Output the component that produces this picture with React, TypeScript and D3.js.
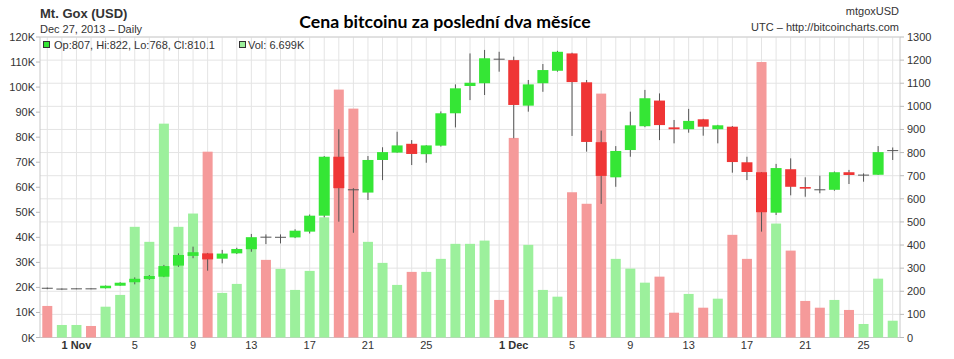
import React from "react";
import * as d3 from "d3";

const startDate = "2013-10-30";
const opens = [214,209,210,211,213,224,239,253,263,311,353,364,341,364,382,435,433,433,458,527,782,640,627,768,800,838,793,830,970,1088,1100,1205,1200,1003,1100,1154,1229,1104,845,693,811,914,1025,909,901,944,901,912,758,715,540,728,651,640,639,715,700,704,807];
const highs = [216,212,212,212,225,239,260,270,314,364,393,366,379,388,448,446,446,468,532,785,901,646,785,823,890,854,832,978,1095,1229,1244,1236,1215,1114,1183,1240,1232,1114,895,828,977,1071,1056,941,989,946,920,915,782,716,751,775,693,700,718,725,710,828,822];
const lows = [209,207,209,209,212,223,230,250,261,306,343,289,321,361,371,404,407,430,450,520,501,453,595,681,799,746,756,826,909,1027,1049,1150,862,977,1063,1150,872,804,578,652,782,910,854,840,886,873,840,713,681,458,530,615,609,624,635,664,674,703,768];
const closes = [212,210,211,210,224,237,254,266,309,357,369,338,363,383,434,433,434,462,527,782,646,638,768,802,831,794,831,970,1078,1102,1208,1203,1006,1095,1157,1236,1105,846,699,807,918,1035,919,901,937,912,918,759,716,542,733,652,644,638,715,703,705,802,810.1];
const volumesK = [12.6,5.0,5.0,4.6,12.3,17,44.2,38.2,85.4,44.2,49.5,74.2,17.8,21.4,38,31,27.4,19,26.6,48,99,91.4,38.2,29.8,21,26.2,26.2,31.4,37.4,37.4,38.7,15,79.7,37,19,16.3,58,53.4,97.4,31.4,27.5,21.9,24.3,9.9,17.4,11.9,15.5,41,31.4,110,45.5,34.7,14.6,11.9,15,11,5.4,23.5,6.699];

const volTicks = [0,10,20,30,40,50,60,70,80,90,100,110,120];
const priceTicks = [0,100,200,300,400,500,600,700,800,900,1000,1100,1200,1300];
const xTickLabels = [
  { date: "2013-11-01", label: "1 Nov", bold: true },
  { date: "2013-11-05", label: "5" },
  { date: "2013-11-09", label: "9" },
  { date: "2013-11-13", label: "13" },
  { date: "2013-11-17", label: "17" },
  { date: "2013-11-21", label: "21" },
  { date: "2013-11-25", label: "25" },
  { date: "2013-12-01", label: "1 Dec", bold: true },
  { date: "2013-12-05", label: "5" },
  { date: "2013-12-09", label: "9" },
  { date: "2013-12-13", label: "13" },
  { date: "2013-12-17", label: "17" },
  { date: "2013-12-21", label: "21" },
  { date: "2013-12-25", label: "25" },
];

const W = 954, H = 359;
const L = 40, R = 900, T = 37, B = 337.5;
const FONT = "'Liberation Sans', Arial, sans-serif";

const parse = d3.utcParse("%Y-%m-%d");

export default function App() {
  const d0 = parse(startDate)!;
  const dates = opens.map((_, i) => d3.utcDay.offset(d0, i));
  const DAY = 864e5;
  const x = d3.scaleUtc()
    .domain([new Date(+dates[0] - DAY / 2), new Date(+dates[dates.length - 1] + DAY / 2)])
    .range([L, R]);
  const yP = d3.scaleLinear().domain([0, 1300]).range([B, T]);
  const yV = d3.scaleLinear().domain([0, 120]).range([B, T]);
  const candleW = 11;
  const volW = 10;

  const gridC = "#e4e4e4";
  const textC = "#333";
  const up = "#35e635";
  const down = "#ef3535";
  const volUp = "#9cf09c";
  const volDown = "#f59a9a";
  const wick = "#555";

  return (
    <svg width={W} height={H} style={{ position: "absolute", left: 0, top: 0, background: "#fff" }} fontFamily={FONT}>
      <rect x={0} y={0} width={W} height={H} fill="#fff" />
      {dates.map((d, i) => (
        <line key={"vg" + i} x1={x(d)} x2={x(d)} y1={T} y2={B} stroke={gridC} strokeWidth={1} />
      ))}
      {priceTicks.map((p) => (
        <line key={"hg" + p} x1={L} x2={R} y1={yP(p)} y2={yP(p)} stroke={gridC} strokeWidth={1} />
      ))}
      <line x1={L} x2={L} y1={T} y2={B} stroke="#c8c8c8" />
      <line x1={R} x2={R} y1={T} y2={B} stroke="#c8c8c8" />
      <line x1={L} x2={R} y1={T} y2={T} stroke="#d0d0d0" />
      <line x1={L} x2={R} y1={B} y2={B} stroke="#c8c8c8" />

      {dates.map((d, i) => (
        <rect key={"v" + i} x={x(d) - volW / 2} width={volW} y={yV(volumesK[i])} height={B - yV(volumesK[i])}
          fill={closes[i] >= opens[i] ? volUp : volDown} />
      ))}

      {dates.map((d, i) => {
        const cx = x(d);
        const o = yP(opens[i]), c = yP(closes[i]);
        const top = Math.min(o, c), h = Math.abs(o - c);
        const isUp = closes[i] >= opens[i];
        return (
          <g key={"c" + i}>
            <line x1={cx} x2={cx} y1={yP(highs[i])} y2={yP(lows[i])} stroke={wick} strokeWidth={1} />
            {h < 1.6 ? (
              <line x1={cx - candleW / 2} x2={cx + candleW / 2} y1={(o + c) / 2} y2={(o + c) / 2} stroke={wick} strokeWidth={1} />
            ) : (
              <rect x={cx - candleW / 2} width={candleW} y={top} height={h} fill={isUp ? up : down} />
            )}
          </g>
        );
      })}

      {volTicks.map((v) => (
        <g key={"lt" + v}>
          <line x1={L - 4} x2={L} y1={yV(v)} y2={yV(v)} stroke="#bbb" />
          <text x={L - 5} y={yV(v) + 4} textAnchor="end" fontSize={11} fill={textC}>{v + "K"}</text>
        </g>
      ))}
      {priceTicks.map((p) => (
        <g key={"rt" + p}>
          <line x1={R} x2={R + 4} y1={yP(p)} y2={yP(p)} stroke="#bbb" />
          <text x={R + 7} y={yP(p) + 4} textAnchor="start" fontSize={11} fill={textC}>{p}</text>
        </g>
      ))}
      {xTickLabels.map((t) => {
        const d = parse(t.date)!;
        return (
          <text key={t.date} x={x(d)} y={349} textAnchor="middle" fontSize={11} fill={textC}
            fontWeight={t.bold ? "bold" : "normal"}>{t.label}</text>
        );
      })}

      <text x={40} y={18} fontSize={13} fontWeight="bold" fill={textC}>Mt. Gox (USD)</text>
      <text x={40} y={33} fontSize={11} fill={textC}>Dec 27, 2013 – Daily</text>
      <text x={445} y={28} textAnchor="middle" fontSize={17.7} fontWeight="bold" fill="#000" fontFamily="Lato, sans-serif">Cena bitcoinu za poslední dva měsíce</text>
      <text x={899} y={15} textAnchor="end" fontSize={11} fill={textC}>mtgoxUSD</text>
      <text x={899} y={31} textAnchor="end" fontSize={11} fill={textC}>UTC – http://bitcoincharts.com</text>

      <rect x={43.5} y={41.5} width={6} height={6} fill={up} stroke="#333" strokeWidth={1} />
      <text x={54} y={48.5} fontSize={11} fill={textC}>
        {`Op:${opens[opens.length - 1]}, Hi:${highs[highs.length - 1]}, Lo:${lows[lows.length - 1]}, Cl:${closes[closes.length - 1]}`}
      </text>
      <rect x={239.5} y={41.5} width={6} height={6} fill={volUp} stroke="#333" strokeWidth={1} />
      <text x={248} y={48.5} fontSize={11} fill={textC}>{`Vol: ${volumesK[volumesK.length - 1]}K`}</text>
    </svg>
  );
}
